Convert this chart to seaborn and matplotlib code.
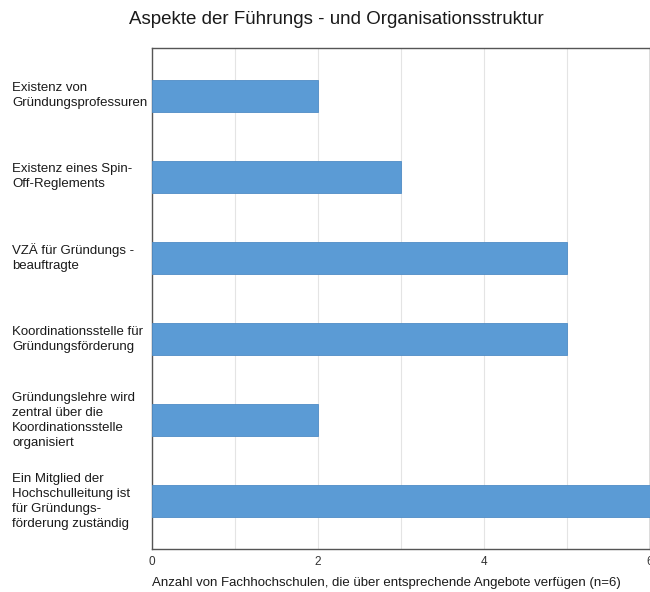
import pandas as pd
import numpy as np
import matplotlib.pyplot as plt
import matplotlib.transforms as mtransforms
import seaborn as sns

categories = [
    "Existenz von\nGründungsprofessuren",
    "Existenz eines Spin-\nOff-Reglements",
    "VZÄ für Gründungs -\nbeauftragte",
    "Koordinationsstelle für\nGründungsförderung",
    "Gründungslehre wird\nzentral über die\nKoordinationsstelle\norganisiert",
    "Ein Mitglied der\nHochschulleitung ist\nfür Gründungs-\nförderung zuständig",
]
values = [2, 3, 5, 5, 2, 6]
x_ticks = [0, 2, 4, 6]
title = "Aspekte der Führungs - und Organisationsstruktur"
xlabel = "Anzahl von Fachhochschulen, die über entsprechende Angebote verfügen (n=6)"


def main():
    sns.set_style("white")
    plt.rcParams['font.family'] = ['Liberation Sans', 'DejaVu Sans']

    df = pd.DataFrame({"kategorie": categories, "anzahl": values})

    fig = plt.figure(figsize=(6.5, 5.92), dpi=100)
    ax = fig.add_axes([152 / 650, 1 - 549 / 592, 1 - 152 / 650, (549 - 48) / 592])

    sns.barplot(data=df, x="anzahl", y="kategorie", orient="h", ax=ax,
                color="#5b9bd5", saturation=1, width=0.4,
                edgecolor="#4f8cc6", linewidth=0.6, zorder=3)

    ax.set_xlim(0, 6)
    ax.set_ylim(len(categories) - 1 + 0.59, -0.59)
    ax.set_xticks(x_ticks)
    ax.set_xticks(np.arange(0, 7, 1), minor=True)
    ax.grid(axis="x", which="both", color="#e4e4e4", linewidth=0.8, zorder=0)
    ax.tick_params(axis="x", which="major", length=3, width=0.8, color="#444444",
                   labelsize=8.5, labelcolor="#333333", pad=2)
    ax.tick_params(axis="x", which="minor", length=0)
    ax.tick_params(axis="y", length=0, pad=0)
    ax.set_yticks(range(len(categories)))
    ax.set_yticklabels([])
    ax.set_xlabel("")
    ax.set_ylabel("")

    for sp in ["left", "bottom", "top", "right"]:
        ax.spines[sp].set_color("#555555")
        ax.spines[sp].set_linewidth(1.0)

    # category labels, left-aligned at the figure edge
    trans = mtransforms.blended_transform_factory(fig.transFigure, ax.transData)
    for i, lab in enumerate(categories):
        ax.text(12 / 650, i, lab, transform=trans, ha="left", va="center",
                fontsize=9.5, linespacing=1.33, color="#1a1a1a")

    fig.text(336 / 650, 1 - 19 / 592, title, ha="center", va="center",
             fontsize=13.5, color="#1a1a1a")
    fig.text(152 / 650, 1 - 583 / 592, xlabel, ha="left", va="center",
             fontsize=9.5, color="#1a1a1a")

    fig.savefig("out.png", dpi=100)


if __name__ == "__main__":
    main()
